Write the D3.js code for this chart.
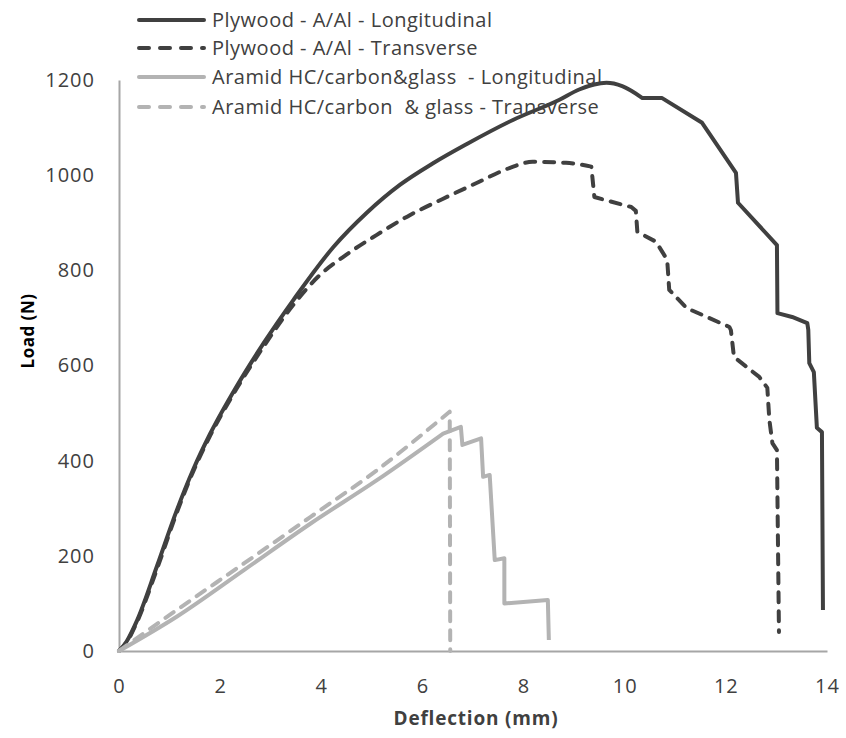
<!DOCTYPE html>
<html>
<head>
<meta charset="utf-8">
<script src="https://cdn.jsdelivr.net/npm/d3@7"></script>
<style>
  html, body { margin: 0; padding: 0; background: #ffffff; }
  svg text { font-family: "Open Sans", "Liberation Sans", sans-serif; }
</style>
</head>
<body>
<svg id="chart" width="846" height="738"></svg>
<script>
// ---- Data ----
const seriesNames = [
  "Plywood - A/Al - Longitudinal",
  "Plywood - A/Al - Transverse",
  "Aramid HC/carbon&glass  - Longitudinal",
  "Aramid HC/carbon  & glass - Transverse"
];

// deflection (mm) / load (N); smoothSplit = number of leading points drawn as a smooth curve
const plyLongX = [0, 0.15, 0.36, 0.75, 1.14, 1.47, 1.80, 2.33, 2.86, 3.45, 4.24, 4.90, 5.56, 6.21, 6.87, 7.79, 8.70, 9.10, 9.64, 9.95, 10.35, 10.74, 11.53, 12.20, 12.24, 13.01, 13.02, 13.31, 13.61, 13.63, 13.65, 13.74, 13.80, 13.90, 13.92];
const plyLongY = [0, 20, 65, 178, 295, 382, 456, 557, 647, 738, 849, 921, 980, 1025, 1065, 1116, 1158, 1180, 1194, 1187, 1162, 1162, 1110, 1005, 942, 853, 710, 702, 689, 675, 605, 586, 469, 460, 86];
const plyLongSmooth = 21;

const plyTransX = [0, 0.15, 0.36, 0.75, 1.14, 1.47, 1.80, 2.33, 2.86, 3.45, 3.97, 4.43, 5.09, 5.75, 6.40, 7.06, 7.72, 8.18, 8.84, 9.34, 9.40, 10.13, 10.22, 10.25, 10.62, 10.84, 10.88, 11.22, 12.07, 12.10, 12.16, 12.66, 12.82, 12.86, 12.92, 13.01, 13.05];
const plyTransY = [0, 18, 62, 172, 290, 378, 452, 552, 640, 728, 790, 828, 874, 916, 950, 983, 1015, 1028, 1026, 1018, 954, 933, 925, 881, 860, 822, 759, 721, 681, 674, 618, 576, 553, 486, 437, 422, 40];
const plyTransSmooth = 20;

const araLongX = [0, 1.14, 2.47, 3.79, 5.10, 6.41, 6.76, 6.79, 7.16, 7.20, 7.33, 7.43, 7.62, 7.62, 8.48, 8.50];
const araLongY = [0, 72, 170, 268, 359, 457, 471, 433, 447, 366, 370, 191, 195, 100, 107, 23];
const araLongSmooth = 6;

const araTransX = [0, 1.14, 2.47, 3.79, 5.10, 6.54, 6.55];
const araTransY = [0, 86, 184, 282, 380, 503, 0];
const araTransSmooth = 6;

const xTicks = [0, 2, 4, 6, 8, 10, 12, 14];
const yTicks = [0, 200, 400, 600, 800, 1000, 1200];

const xTitle = "Deflection (mm)";
const yTitle = "Load (N)";

// ---- Styles ----
const darkColor = "#404040";
const lightColor = "#b3b3b3";
const styles = [
  { color: darkColor, dash: null },
  { color: darkColor, dash: "10 9" },
  { color: lightColor, dash: null },
  { color: lightColor, dash: "10 9" }
];

const seriesData = [
  { pts: d3.zip(plyLongX, plyLongY), smooth: plyLongSmooth },
  { pts: d3.zip(plyTransX, plyTransY), smooth: plyTransSmooth },
  { pts: d3.zip(araLongX, araLongY), smooth: araLongSmooth },
  { pts: d3.zip(araTransX, araTransY), smooth: araTransSmooth }
];

const svg = d3.select("#chart");

const x = d3.scaleLinear().domain([0, 14]).range([119, 827]);
const y = d3.scaleLinear().domain([0, 1200]).range([651, 80]);

// axes lines (no tick marks)
const xAxis = svg.append("g").attr("transform", `translate(0,${y(0)})`)
  .call(d3.axisBottom(x).tickValues(xTicks).tickSize(0).tickPadding(28).tickFormat(d3.format("d")));
const yAxis = svg.append("g").attr("transform", `translate(${x(0)},0)`)
  .call(d3.axisLeft(y).tickValues(yTicks).tickSize(0).tickPadding(24).tickFormat(d3.format("d")));

[xAxis, yAxis].forEach(g => {
  g.select(".domain").attr("stroke", "#a6a6a6").attr("stroke-width", 2);
  g.selectAll("text")
    .attr("fill", "#404040")
    .style("font-size", "20px")
    .style("letter-spacing", "1px")
    .style("font-family", "'Open Sans', sans-serif");
});

// lines: smooth rising part + straight segments for the failure steps, in one path
const smoothLine = d3.line().x(d => x(d[0])).y(d => y(d[1])).curve(d3.curveMonotoneX);
const straightLine = d3.line().x(d => x(d[0])).y(d => y(d[1]));
seriesData.forEach((s, i) => {
  const head = s.pts.slice(0, s.smooth);
  const tail = s.pts.slice(s.smooth - 1);
  const d = smoothLine(head) + straightLine(tail).replace(/^M/, "L");
  svg.append("path")
    .attr("d", d)
    .attr("fill", "none")
    .attr("stroke", styles[i].color)
    .attr("stroke-width", 4)
    .attr("stroke-linejoin", "round")
    .attr("stroke-linecap", styles[i].dash ? "round" : "butt")
    .attr("stroke-dasharray", styles[i].dash);
});

// axis titles
svg.append("text")
  .attr("x", 476).attr("y", 725)
  .attr("text-anchor", "middle")
  .attr("fill", "#404040")
  .style("font-size", "19px").style("font-weight", "bold")
  .style("letter-spacing", "0.8px")
  .text(xTitle);

svg.append("text")
  .attr("transform", "translate(34,331) rotate(-90)")
  .attr("text-anchor", "middle")
  .attr("fill", "#000000")
  .style("font-size", "17px").style("font-weight", "bold")
  .style("letter-spacing", "0.5px")
  .text(yTitle);

// legend
const legend = svg.append("g");
const legendY = [20, 48, 77, 107];
seriesNames.forEach((name, i) => {
  const gy = legendY[i];
  legend.append("line")
    .attr("x1", 139).attr("x2", 204)
    .attr("y1", gy).attr("y2", gy)
    .attr("stroke", styles[i].color)
    .attr("stroke-width", 4)
    .attr("stroke-linecap", "round")
    .attr("stroke-dasharray", styles[i].dash ? "10 11" : null);
  legend.append("text")
    .attr("x", 212).attr("y", gy)
    .attr("dy", "0.35em")
    .attr("fill", "#404040")
    .style("font-size", "20px")
    .style("letter-spacing", "0.5px")
    .style("white-space", "pre")
    .text(name);
});
</script>
</body>
</html>
